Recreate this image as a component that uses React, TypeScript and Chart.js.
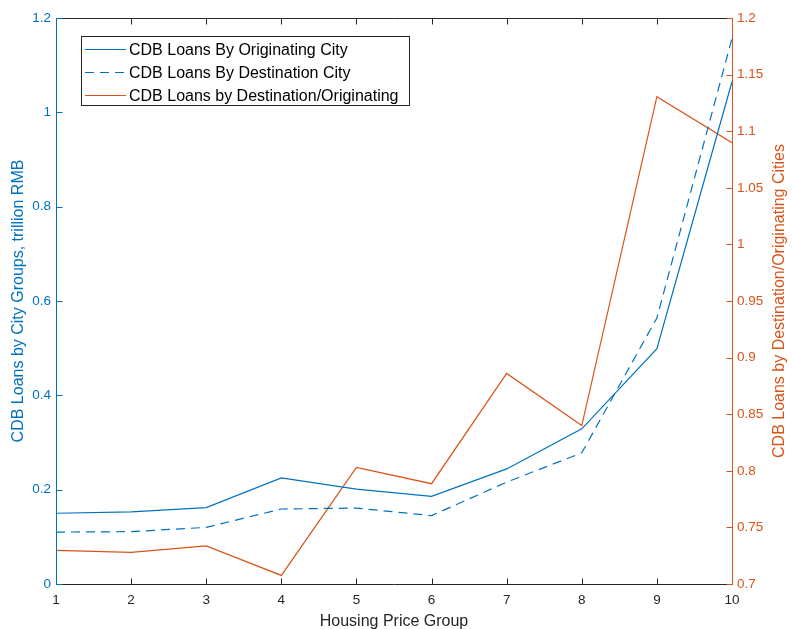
import React, { useEffect, useRef } from "react";
import { Chart, registerables } from "chart.js";

Chart.register(...registerables);

// ---- data ----
const housingGroups = [1, 2, 3, 4, 5, 6, 7, 8, 9, 10];
const loansByOriginating = [0.15, 0.153, 0.162, 0.225, 0.201, 0.186, 0.244, 0.329, 0.499, 1.065];
const loansByDestination = [0.11, 0.111, 0.12, 0.159, 0.161, 0.145, 0.216, 0.278, 0.564, 1.157];
const destOverOrig = [0.7297, 0.728, 0.7336, 0.7076, 0.803, 0.7886, 0.886, 0.84, 1.1305, 1.0899];

const xTicks = [1, 2, 3, 4, 5, 6, 7, 8, 9, 10];
const leftTicks = [0, 0.2, 0.4, 0.6, 0.8, 1, 1.2];
const rightTicks = [0.7, 0.75, 0.8, 0.85, 0.9, 0.95, 1, 1.05, 1.1, 1.15, 1.2];

const seriesLabels = [
  "CDB Loans By Originating City",
  "CDB Loans By Destination City",
  "CDB Loans by Destination/Originating",
];
const xTitle = "Housing Price Group";
const leftTitle = "CDB Loans by City Groups, trillion RMB";
const rightTitle = "CDB Loans by Destination/Originating Cities";

// ---- styles ----
const BLUE = "#0072BD";
const ORANGE = "#D95319";
const AXIS = "#262626";
const FONT = "'Liberation Sans', Arial, Helvetica, sans-serif";
const TICK_LEN = 6;
const LINE_W = 1.2;
const DASH = [9, 6];
const seriesColors = [BLUE, BLUE, ORANGE];
const seriesDashes: number[][] = [[], DASH, []];

const fmt = (v: number) => String(Number(Number(v).toFixed(3)));

const matlabAxes = {
  id: "matlabAxes",
  afterDraw(chart: any) {
    const { ctx, chartArea: a, scales } = chart;
    const xs = scales.x, yl = scales.y, yr = scales.y1;
    const L = Math.round(a.left) + 0.5;
    const R = Math.round(a.right) + 0.5;
    const T = Math.round(a.top) + 0.5;
    const B = Math.round(a.bottom) + 0.5;
    ctx.save();
    ctx.lineWidth = 1;
    ctx.setLineDash([]);
    ctx.strokeStyle = AXIS;
    ctx.beginPath();
    ctx.moveTo(L, B); ctx.lineTo(R, B);
    ctx.moveTo(L, T); ctx.lineTo(R, T);
    xTicks.forEach((v) => {
      const px = Math.round(xs.getPixelForValue(v)) + 0.5;
      ctx.moveTo(px, B); ctx.lineTo(px, B - TICK_LEN);
      ctx.moveTo(px, T); ctx.lineTo(px, T + TICK_LEN);
    });
    ctx.stroke();
    ctx.strokeStyle = BLUE;
    ctx.beginPath();
    ctx.moveTo(L, T); ctx.lineTo(L, B);
    leftTicks.forEach((v) => {
      const py = Math.round(yl.getPixelForValue(v)) + 0.5;
      ctx.moveTo(L, py); ctx.lineTo(L + TICK_LEN, py);
    });
    ctx.stroke();
    ctx.strokeStyle = ORANGE;
    ctx.beginPath();
    ctx.moveTo(R, T); ctx.lineTo(R, B);
    rightTicks.forEach((v) => {
      const py = Math.round(yr.getPixelForValue(v)) + 0.5;
      ctx.moveTo(R, py); ctx.lineTo(R - TICK_LEN, py);
    });
    ctx.stroke();

    // right axis title (reads bottom to top)
    ctx.save();
    ctx.translate(780, (a.top + a.bottom) / 2);
    ctx.rotate(-Math.PI / 2);
    ctx.fillStyle = ORANGE;
    ctx.font = `16px ${FONT}`;
    ctx.textAlign = "center";
    ctx.textBaseline = "middle";
    ctx.fillText(rightTitle, 0, 0);
    ctx.restore();

    // legend box
    const bx = 81.5, by = 36.5, bw = 328, bh = 69;
    ctx.fillStyle = "#ffffff";
    ctx.fillRect(bx, by, bw, bh);
    ctx.lineWidth = 1;
    ctx.strokeStyle = AXIS;
    ctx.strokeRect(bx, by, bw, bh);
    const rows = [49.5, 72.5, 95.5];
    seriesLabels.forEach((label, i) => {
      const y = rows[i];
      ctx.beginPath();
      ctx.strokeStyle = seriesColors[i];
      ctx.lineWidth = LINE_W;
      ctx.setLineDash(seriesDashes[i]);
      ctx.moveTo(85, y); ctx.lineTo(126, y);
      ctx.stroke();
      ctx.setLineDash([]);
      ctx.fillStyle = "#000000";
      ctx.font = `16px ${FONT}`;
      ctx.textAlign = "left";
      ctx.textBaseline = "middle";
      ctx.fillText(label, 129, y + 1);
    });
    ctx.restore();
  },
};

export default function App() {
  const ref = useRef<HTMLCanvasElement | null>(null);

  useEffect(() => {
    if (!ref.current) return;
    const pts = (ys: number[]) => housingGroups.map((x, i) => ({ x, y: ys[i] }));
    const chart = new Chart(ref.current, {
      type: "line",
      data: {
        datasets: [
          {
            label: seriesLabels[0],
            data: pts(loansByOriginating),
            borderColor: seriesColors[0],
            borderWidth: LINE_W,
            pointRadius: 0,
            yAxisID: "y",
            tension: 0,
          },
          {
            label: seriesLabels[1],
            data: pts(loansByDestination),
            borderColor: seriesColors[1],
            borderWidth: LINE_W,
            borderDash: seriesDashes[1],
            pointRadius: 0,
            yAxisID: "y",
            tension: 0,
          },
          {
            label: seriesLabels[2],
            data: pts(destOverOrig),
            borderColor: seriesColors[2],
            borderWidth: LINE_W,
            pointRadius: 0,
            yAxisID: "y1",
            tension: 0,
          },
        ],
      },
      options: {
        responsive: false,
        animation: false,
        devicePixelRatio: 1,
        layout: { padding: { top: 18, left: 0, right: 0, bottom: 0 } },
        plugins: { legend: { display: false }, tooltip: { enabled: false } },
        scales: {
          x: {
            type: "linear",
            position: "bottom",
            min: 1,
            max: 10,
            grid: { display: false, drawTicks: false },
            border: { display: false },
            afterBuildTicks: (s: any) => {
              s.ticks = xTicks.map((v) => ({ value: v }));
            },
            afterFit: (s: any) => {
              s.height = 45;
            },
            ticks: {
              color: AXIS,
              padding: 8,
              maxRotation: 0,
              font: { family: FONT, size: 13.5 },
              callback: (v: any) => fmt(v),
            },
            title: {
              display: true,
              text: xTitle,
              color: AXIS,
              font: { family: FONT, size: 16, lineHeight: 0.9 },
              padding: { top: 0, bottom: 0 },
            },
          },
          y: {
            type: "linear",
            position: "left",
            min: 0,
            max: 1.2,
            grid: { display: false, drawTicks: false },
            border: { display: false },
            afterBuildTicks: (s: any) => {
              s.ticks = leftTicks.map((v) => ({ value: v }));
            },
            afterFit: (s: any) => {
              s.width = 56;
            },
            ticks: {
              color: BLUE,
              padding: 5,
              font: { family: FONT, size: 13.5 },
              callback: (v: any) => fmt(v),
            },
            title: {
              display: true,
              text: leftTitle,
              color: BLUE,
              font: { family: FONT, size: 16, lineHeight: 1.2 },
              padding: { top: 8.5, bottom: 0 },
            },
          },
          y1: {
            type: "linear",
            position: "right",
            min: 0.7,
            max: 1.2,
            grid: { display: false, drawTicks: false },
            border: { display: false },
            afterBuildTicks: (s: any) => {
              s.ticks = rightTicks.map((v) => ({ value: v }));
            },
            afterFit: (s: any) => {
              s.width = 60;
            },
            ticks: {
              color: ORANGE,
              padding: 5,
              font: { family: FONT, size: 13.5 },
              callback: (v: any) => fmt(v),
            },
          },
        },
      },
      plugins: [matlabAxes],
    } as any);
    return () => chart.destroy();
  }, []);

  return (
    <canvas
      ref={ref}
      width={792}
      height={629}
      style={{ position: "absolute", left: 0, top: 0, width: 792, height: 629, background: "#fff" }}
    />
  );
}
